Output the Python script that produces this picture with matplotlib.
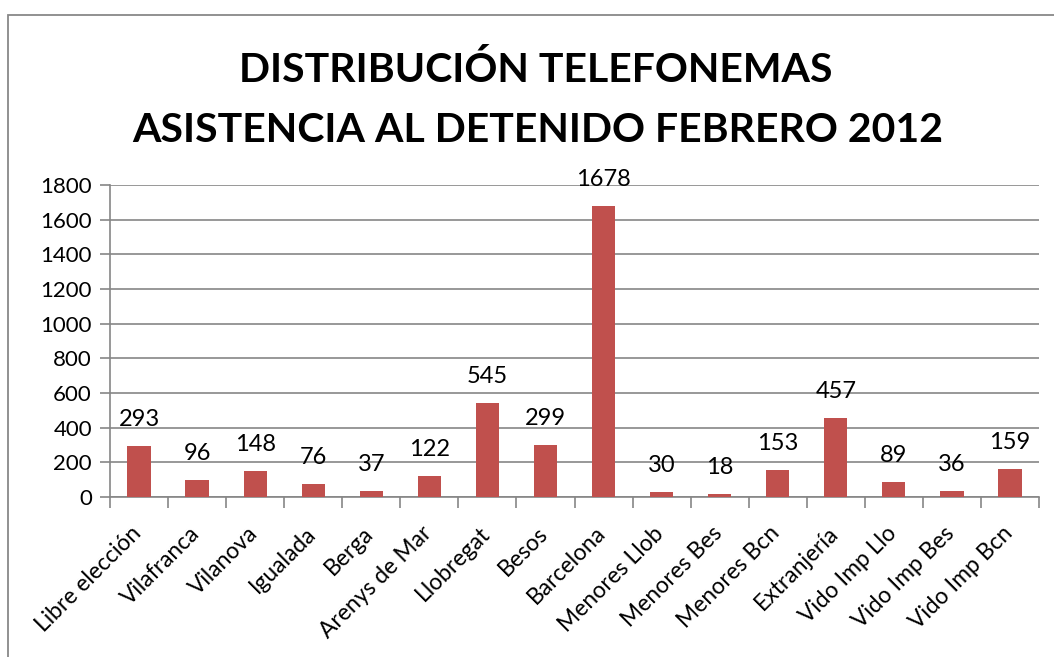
import matplotlib
matplotlib.use("Agg")
import matplotlib.pyplot as plt
from matplotlib.patches import Rectangle
from matplotlib.transforms import blended_transform_factory, ScaledTranslation

plt.rcParams['font.family'] = ['Lato', 'DejaVu Sans']

categories = ["Libre elección", "Vilafranca", "Vilanova", "Igualada", "Berga",
              "Arenys de Mar", "Llobregat", "Besos", "Barcelona", "Menores Llob",
              "Menores Bes", "Menores Bcn", "Extranjería", "Vido Imp Llo",
              "Vido Imp Bes", "Vido Imp Bcn"]
values = [293, 96, 148, 76, 37, 122, 545, 299, 1678, 30, 18, 153, 457, 89, 36, 159]
title_lines = ["DISTRIBUCIÓN TELEFONEMAS", "ASISTENCIA AL DETENIDO FEBRERO 2012"]
yticks = list(range(0, 2000, 200))

W, H = 1054, 657
fig = plt.figure(figsize=(W / 100, H / 100), dpi=100)

# outer chart frame
fig.patches.append(Rectangle((8 / W, -0.05), 1.2, (H - 15) / H + 0.05,
                             transform=fig.transFigure, fill=False,
                             edgecolor='#888888', linewidth=1.3))

left, right, top, bottom = 110, 1039, 185, 497
ax = fig.add_axes([left / W, 1 - bottom / H, (right - left) / W, (bottom - top) / H])

x = list(range(len(categories)))
ax.bar(x, values, width=0.4, color='#C0504D', zorder=3)
for xi, v in zip(x, values):
    ax.annotate(str(v), (xi, v), xytext=(0, 14.4), textcoords='offset points',
                ha='center', va='baseline', fontsize=17, color='black')

ax.set_xlim(-0.5, len(categories) - 0.5)
ax.set_ylim(0, 1800)
ax.set_yticks(yticks)
ax.set_yticklabels([str(t) for t in yticks], fontsize=16)
ax.yaxis.grid(True, color='#868686', linewidth=1.2, zorder=0)
ax.set_axisbelow(True)

ax.set_xticks([i - 0.5 for i in range(len(categories) + 1)])
ax.set_xticklabels([])
ax.tick_params(axis='x', which='major', length=8, color='#868686', width=1.2)
ax.tick_params(axis='y', length=7, color='#868686', width=1.2, pad=6)

# rotated category labels
trans = blended_transform_factory(ax.transData, ax.transAxes) + \
    ScaledTranslation(-0.01, -0.33, fig.dpi_scale_trans)
for xi, c in zip(x, categories):
    ax.text(xi, 0, c, transform=trans, rotation=45, ha='right', va='center',
            rotation_mode='anchor', fontsize=16.5, color='black')

for s in ['top', 'right']:
    ax.spines[s].set_visible(False)
for s in ['left', 'bottom']:
    ax.spines[s].set_color('#868686')
    ax.spines[s].set_linewidth(1.2)

fig.text(536 / W, 1 - 70 / H, title_lines[0], ha='center', va='center',
         fontsize=29.5, fontweight='bold')
fig.text(538 / W, 1 - 130 / H, title_lines[1], ha='center', va='center',
         fontsize=29.5, fontweight='bold')

fig.savefig("out.png", dpi=100)
